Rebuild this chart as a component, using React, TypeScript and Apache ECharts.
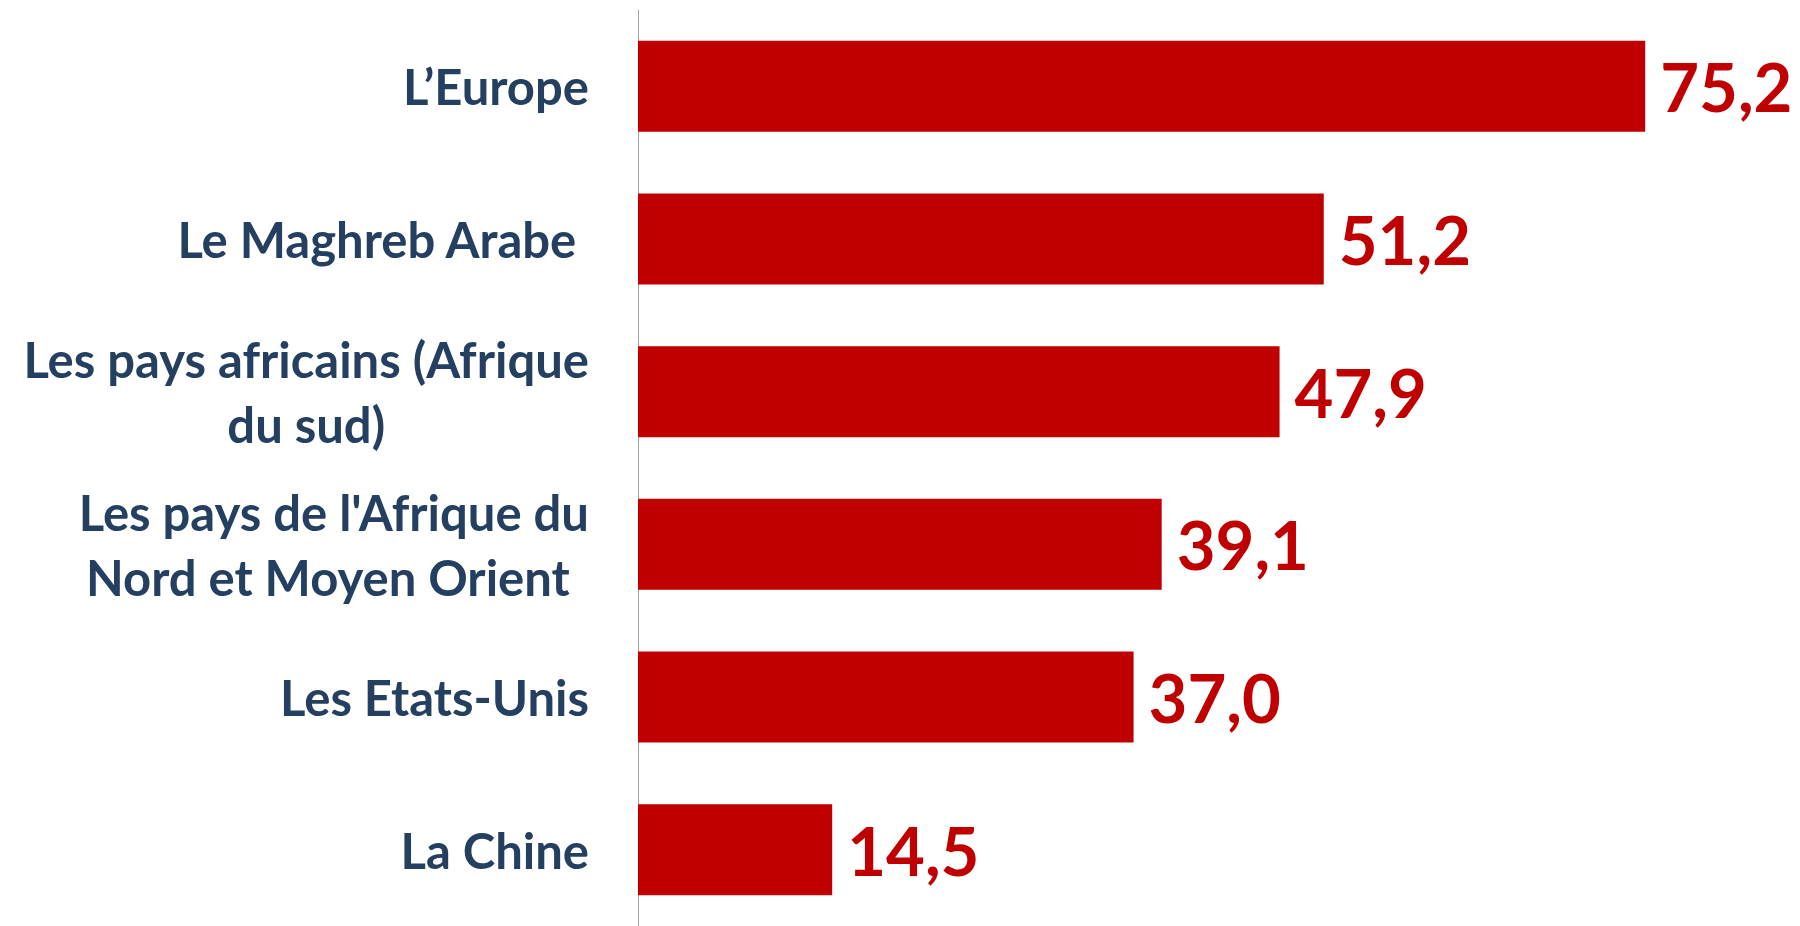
import React, { useEffect, useRef } from "react";
import * as echarts from "echarts";

const categories: string[] = [
  "L’Europe",
  "Le Maghreb Arabe ",
  "Les pays africains (Afrique\ndu sud)",
  "Les pays de l'Afrique du\nNord et Moyen Orient ",
  "Les Etats-Unis",
  "La Chine",
];

const values: number[] = [75.2, 51.2, 47.9, 39.1, 37.0, 14.5];

const BAR_COLOR = "#C00000";
const TEXT_COLOR = "#243F60";
const FONT = "Lato";
const CAT_SIZE = 49;
const CAT_LINE = 65;

export default function App() {
  const ref = useRef<HTMLDivElement>(null);

  useEffect(() => {
    if (!ref.current) return;
    const chart = echarts.init(ref.current, undefined, { renderer: "svg" });
    chart.setOption({
      animation: false,
      backgroundColor: "#ffffff",
      grid: { left: 638, top: 10, width: 1071.5, height: 918, containLabel: false },
      xAxis: {
        type: "value",
        min: 0,
        max: 80,
        show: false,
      },
      yAxis: {
        type: "category",
        inverse: true,
        data: categories,
        axisTick: { show: false },
        axisLine: { show: true, lineStyle: { color: "#A6A6A6", width: 1 } },
        splitLine: { show: false },
        axisLabel: {
          margin: 49,
          align: "right",
          fontSize: CAT_SIZE,
          fontFamily: FONT,
          fontWeight: "bold",
          color: TEXT_COLOR,
          lineHeight: CAT_LINE,
          formatter: (v: string) =>
            v
              .split("\n")
              .map((l) => `{c|${l}}`)
              .join("\n"),
          rich: {
            c: {
              align: "center",
              fontSize: CAT_SIZE,
              fontFamily: FONT,
              fontWeight: "bold",
              color: TEXT_COLOR,
              lineHeight: CAT_LINE,
            },
          },
        },
      },
      series: [
        {
          type: "bar",
          data: values,
          barWidth: 91,
          itemStyle: { color: BAR_COLOR },
          label: {
            show: true,
            position: "right",
            distance: 15,
            fontSize: 67,
            fontFamily: FONT,
            fontWeight: "bold",
            color: BAR_COLOR,
            formatter: (p: any) => Number(p.value).toFixed(1).replace(".", ","),
          },
        },
      ],
    });
    return () => chart.dispose();
  }, []);

  return (
    <div
      ref={ref}
      style={{ position: "fixed", left: 0, top: 0, width: 1800, height: 926 }}
    />
  );
}
